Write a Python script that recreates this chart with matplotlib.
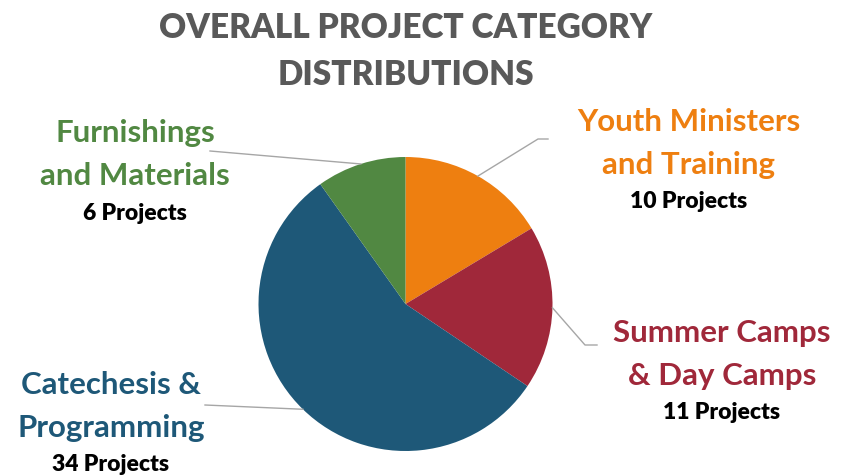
import numpy as np
import matplotlib.pyplot as plt

plt.rcParams['font.family'] = ['Lato', 'DejaVu Sans']

# data
categories = ["Youth Ministers\nand Training", "Summer Camps\n& Day Camps",
              "Catechesis &\nProgramming", "Furnishings\nand Materials"]
projects = [10, 11, 34, 6]
colors = ["#EE7F10", "#A0283A", "#1E5878", "#518842"]
title = "OVERALL PROJECT CATEGORY\nDISTRIBUTIONS"

# layout (pixel coords, y measured from bottom)
W, H = 841, 477
cx, cy, R = 405.5, 172, 147
# label centre (x, y of first line), leader elbow, leader end
label_pos = [(689, 355), (722, 144), (111, 92), (135, 344)]
leader_pts = [[(538, 337), (548, 337)],
              [(585, 131), (597, 131)],
              [(205, 71)],
              [(210, 325)]]

fig = plt.figure(figsize=(W / 100, H / 100), dpi=100)
ax = fig.add_axes([0, 0, 1, 1])
wedges, _ = ax.pie(projects, colors=colors, startangle=90, counterclock=False,
                   radius=R, center=(cx, cy), frame=True,
                   wedgeprops=dict(linewidth=0))
ax.set_xlim(0, W)
ax.set_ylim(0, H)
ax.set_aspect('equal')
ax.axis('off')

for w, cat, n, col, (lx, ly), pts in zip(wedges, categories, projects, colors,
                                          label_pos, leader_pts):
    mid = np.deg2rad((w.theta1 + w.theta2) / 2)
    xs = [cx + R * np.cos(mid)] + [p[0] for p in pts]
    ys = [cy + R * np.sin(mid)] + [p[1] for p in pts]
    ax.plot(xs, ys, color="#A6A6A6", lw=1)
    lines = cat.split("\n")
    ax.text(lx, ly, lines[0], color=col, fontsize=22.5, fontweight='bold',
            ha='center', va='center')
    ax.text(lx, ly - 43, lines[1], color=col, fontsize=22.5, fontweight='bold',
            ha='center', va='center')
    ax.text(lx, ly - 80, f"{n} Projects", color="black", fontsize=16.5,
            fontweight='heavy', ha='center', va='center')

ax.text(406, 449, title.split("\n")[0], color="#595959", fontsize=24,
        fontweight='heavy', ha='center', va='center')
ax.text(406, 402, title.split("\n")[1], color="#595959", fontsize=24,
        fontweight='heavy', ha='center', va='center')

fig.savefig("out.png", dpi=100)
